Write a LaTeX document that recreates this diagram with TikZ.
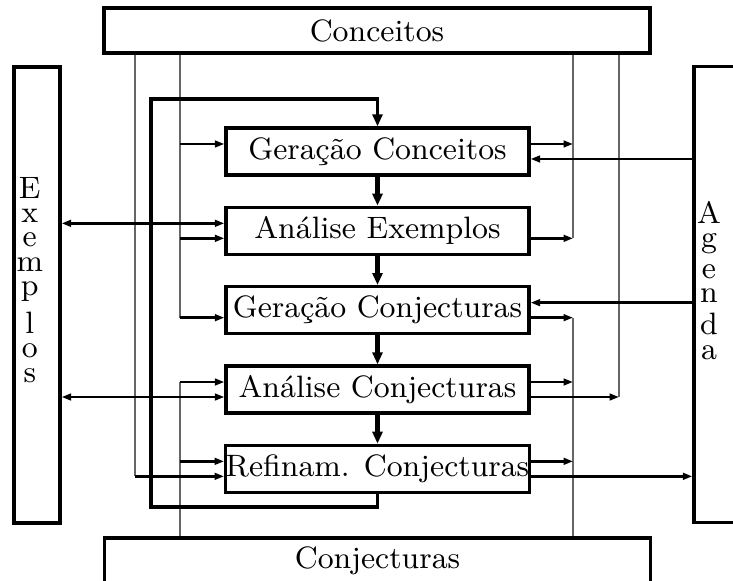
\documentclass[tikz,border=0pt]{standalone}
\usepackage{tikz}
\usetikzlibrary{arrows.meta,positioning,calc}
\tikzset{
 stage/.style={draw,line width=0.95pt,minimum width=3.03cm,minimum height=0.47cm,
   inner sep=0pt,font=\fontsize{8.8}{10.5}\selectfont},
 store/.style={draw,line width=0.95pt,minimum width=5.46cm,minimum height=0.45cm,
   inner sep=0pt,font=\fontsize{8.8}{10.5}\selectfont},
 side/.style={draw,line width=0.95pt,minimum width=0.46cm,minimum height=4.56cm,inner sep=0pt},
 vtext/.style={anchor=west,inner sep=0pt,font=\fontsize{8.8}{10.5}\selectfont},
 rail/.style={draw=black!60,line width=0.3pt},
 arr/.style={-{Triangle[length=2.7pt,width=1.9pt]},line width=0.75pt},
 both/.style={{Triangle[length=2.7pt,width=1.9pt]}-{Triangle[length=2.7pt,width=1.9pt]},line width=0.75pt},
 flow/.style={-{Triangle[length=3.4pt,width=2.8pt]},line width=1pt},
 chain/.style={flow,line width=1.4pt}
}
\begin{document}
\begin{tikzpicture}[node distance=0.29cm]
\useasboundingbox (0,0) rectangle (7.33,-5.81);
% bases and side boxes
\node[store] (conc) at (3.77,-0.305) {Conceitos};
\node[store] (conj) at (3.775,-5.605) {Conjecturas};
\node[side] (ex) at (0.37,-2.95) {};
\node[vtext] at ([xshift=0.035cm,yshift=0.15cm]ex.west) {\shortstack{E\\x\\e\\m\\p\\l\\o\\s}};
\node[side] (ag) at (7.17,-2.945) {};
\node[vtext] at ([xshift=0.04cm,yshift=0.14cm]ag.west) {\shortstack{A\\g\\e\\n\\d\\a}};
% process chain
\node[stage] (g1) at (3.775,-1.515) {Geração Conceitos};
\node[stage,below=of g1] (g2) {Análise Exemplos};
\node[stage,below=of g2] (g3) {Geração Conjecturas};
\node[stage,below=of g3] (g4) {Análise Conjecturas};
\node[stage,below=of g4] (g5) {Refinam. Conjecturas};
% rails and ports
\coordinate (ra) at (1.35,0);
\coordinate (rb) at (1.80,0);
\coordinate (rc) at (5.73,0);
\coordinate (rd) at (6.19,0);
\foreach \i in {1,...,5}{
  \coordinate (lu\i) at ($(g\i.west)+(0,0.075)$);
  \coordinate (ll\i) at ($(g\i.west)+(0,-0.075)$);
  \coordinate (ru\i) at ($(g\i.east)+(0,0.075)$);
  \coordinate (rl\i) at ($(g\i.east)+(0,-0.075)$);
}
\draw[rail] (conc.south -| ra) -- (ra |- ll5);
\draw[rail] (conc.south -| rb) -- (rb |- ll3);
\draw[rail] (conj.north -| rb) -- (rb |- lu4);
\draw[rail] (conc.south -| rc) -- (rc |- rl2);
\draw[rail] (conj.north -| rc) -- (rc |- rl3);
\draw[rail] (conc.south -| rd) -- (rd |- rl4);
% left side
\draw[arr] (rb |- lu1) -- (lu1);
\draw[arr] (rb |- ll2) -- (ll2);
\draw[arr] (rb |- ll3) -- (ll3);
\draw[arr] (rb |- lu4) -- (lu4);
\draw[arr] (rb |- lu5) -- (lu5);
\draw[arr] (ra |- ll5) -- (ll5);
\draw[both] (ex.east |- lu2) -- (lu2);
\draw[both] (ex.east |- ll4) -- (ll4);
% right side
\draw[arr] (ru1) -- (rc |- ru1);
\draw[arr] (rl2) -- (rc |- rl2);
\draw[arr] (rl3) -- (rc |- rl3);
\draw[arr] (ru4) -- (rc |- ru4);
\draw[arr] (ru5) -- (rc |- ru5);
\draw[arr] (rl4) -- (rd |- rl4);
\draw[arr] (ag.west |- rl1) -- (rl1);
\draw[arr] (ag.west |- ru3) -- (ru3);
\draw[arr] (rl5) -- (ag.west |- rl5);
% main flow and loop back
\foreach \i/\j in {1/2,2/3,3/4,4/5} \draw[chain] (g\i) -- (g\j);
\coordinate (lb) at (1.51,-5.07);
\coordinate (lt) at (3.775,-0.99);
\draw[flow] (g5.south) |- (lb) |- (lt) -- (g1.north);
\end{tikzpicture}
\end{document}
